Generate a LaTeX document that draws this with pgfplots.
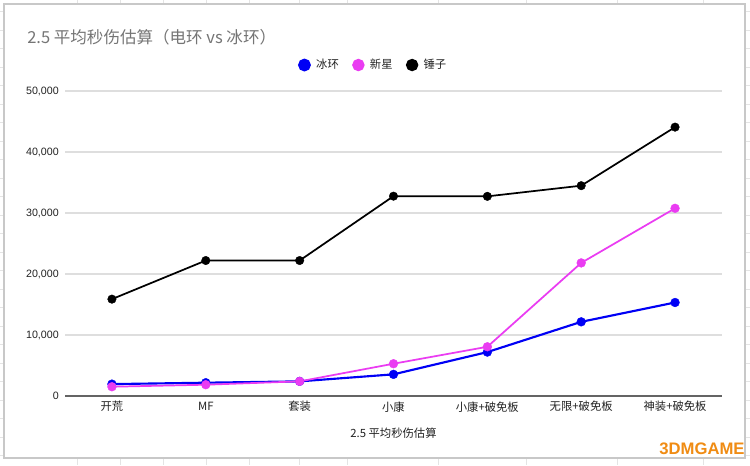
\documentclass[border=0pt]{standalone}
\usepackage{fontspec}
\setmainfont{Liberation Sans}
\newfontfamily\cjk{Noto Sans CJK SC}
\usepackage{pgfplots}
\pgfplotsset{compat=1.18}

\definecolor{bingHuan}{RGB}{0,0,245}
\definecolor{xinXing}{RGB}{234,60,242}
\definecolor{gridGrey}{RGB}{222,222,222}
\definecolor{sheetGrey}{RGB}{228,228,228}
\definecolor{cardGrey}{RGB}{200,200,200}
\definecolor{titleGrey}{RGB}{117,117,117}
\definecolor{axisGrey}{RGB}{100,100,100}
\definecolor{labelDark}{RGB}{34,34,34}
\definecolor{logoOrange}{RGB}{240,140,20}

\begin{document}
\begin{tikzpicture}
% spreadsheet background and chart card, in pixel units
\begin{scope}[x=0.75pt,y=0.75pt]
  \fill[white] (0,0) rectangle (750,465);
  \foreach \c in {77,120,163,206,249,299,347,438,526,617,703}
    \draw[sheetGrey] (\c,0) -- (\c,465);
  \foreach \k in {0,...,24}
    \draw[sheetGrey] (0,{465-11.3-18.5*\k}) -- (750,{465-11.3-18.5*\k});
  \draw[fill=white, draw=cardGrey, line width=1.1pt] (4,7) rectangle (745,461);
  \node[anchor=west, text=titleGrey, inner sep=0pt,
        font=\cjk\fontsize{12.4}{15}\selectfont] at (27,428)
        {2.5 平均秒伤估算（电环 vs 冰环）};
  \node[text=logoOrange, inner sep=0pt, font=\bfseries\fontsize{12.5}{14}\selectfont]
        at (702,16) {3DMGAME};
\end{scope}

\begin{axis}[
  at={(48.75pt,51.75pt)}, anchor=south west,
  scale only axis, width=492.75pt, height=228.75pt,
  xmin=-0.5, xmax=6.5, ymin=0, ymax=50000,
  xtick={0,...,6},
  xticklabels={开荒,MF,套装,小康,小康+破免板,无限+破免板,神装+破免板},
  ytick={0,10000,...,50000},
  scaled y ticks=false,
  /pgf/number format/assume math mode=true,
  yticklabel style={/pgf/number format/1000 sep={,}, anchor=east, inner sep=0pt,
    xshift=-4.5pt, text=labelDark, font=\fontsize{8}{9}\selectfont},
  xticklabel style={anchor=center, yshift=-8pt, text=labelDark,
    font=\cjk\fontsize{8.5}{10}\selectfont},
  separate axis lines,
  axis x line*=bottom, axis y line*=left,
  x axis line style={draw=axisGrey, line width=1.1pt, -},
  y axis line style={draw=none},
  major tick length=0pt,
  tick style={draw=none},
  ymajorgrids, grid style={gridGrey, line width=0.8pt},
  xlabel={2.5 平均秒伤估算},
  xlabel style={at={(axis description cs:0.5,0)}, anchor=center, yshift=-28pt,
    text=labelDark, font=\cjk\fontsize{8.5}{10}\selectfont},
  legend style={at={(0.4696,1.0852)}, anchor=center, draw=none, fill=none,
    legend columns=3, font=\cjk\fontsize{8.5}{10}\selectfont, text=labelDark,
    /tikz/every odd column/.append style={column sep=2pt},
    /tikz/every even column/.append style={column sep=8pt}},
  legend image code/.code={\fill[#1] (0pt,0pt) circle (4pt);},
]
\addplot[bingHuan, line width=1.6pt, mark=*, mark size=3.3pt,
  mark options={solid, line width=0.3pt}]
  coordinates {(0,1950) (1,2180) (2,2400) (3,3550) (4,7200) (5,12160) (6,15330)};
\addlegendentry{冰环}
\addplot[xinXing, line width=1.3pt, mark=*, mark size=3.3pt,
  mark options={solid, line width=0.3pt}]
  coordinates {(0,1520) (1,1850) (2,2400) (3,5290) (4,8070) (5,21820) (6,30770)};
\addlegendentry{新星}
\addplot[black, line width=1.3pt, mark=*, mark size=3.2pt,
  mark options={solid, line width=0.3pt}]
  coordinates {(0,15880) (1,22210) (2,22210) (3,32760) (4,32730) (5,34480) (6,44080)};
\addlegendentry{锤子}
\end{axis}

\pgfresetboundingbox
\path (0,0) rectangle (562.5pt,348.75pt);
\end{tikzpicture}
\end{document}
